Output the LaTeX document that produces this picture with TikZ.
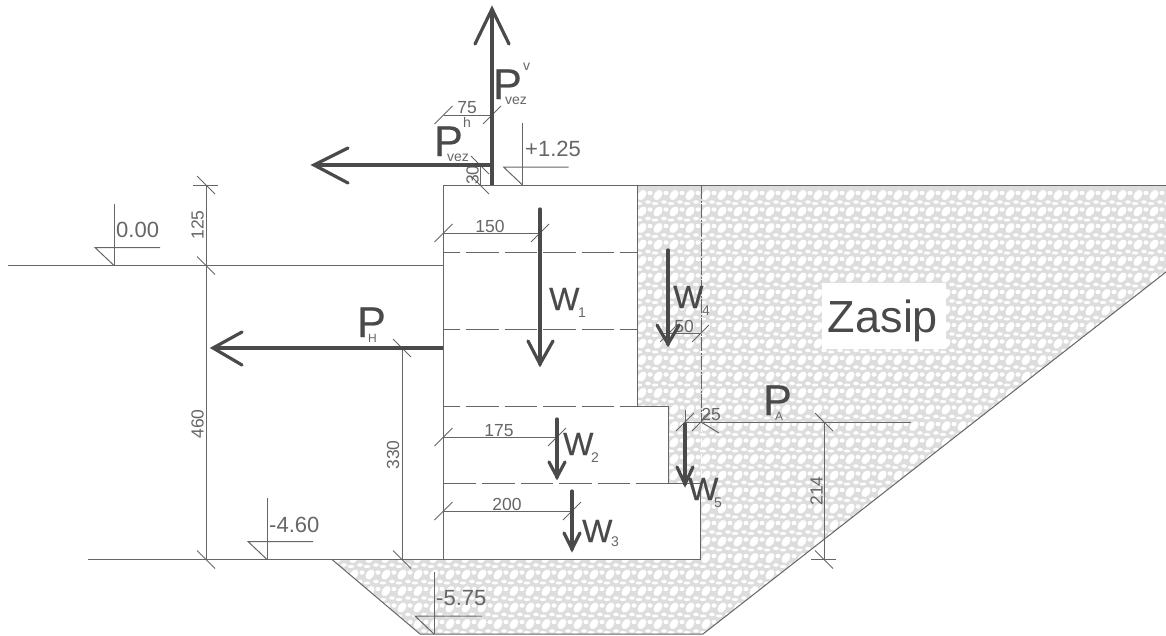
\documentclass[tikz,border=0pt]{standalone}
\usepackage{fontspec}
\setmainfont{Liberation Sans}
\newfontfamily\fbold[FakeBold=0.35]{Liberation Sans}
\usetikzlibrary{calc}
\definecolor{ink}{HTML}{666666}
\definecolor{force}{HTML}{4A4A4A}
\definecolor{peb}{HTML}{DDDDDD}
\tikzset{
 thinline/.style={draw=ink,line width=1pt},
 dashline/.style={draw=ink,line width=1pt,dash pattern=on 32.5pt off 6pt},
 forceline/.style={draw=force,line width=3.5pt},
 forcethin/.style={draw=force,line width=3.2pt,line cap=round,line join=miter},
 lvltext/.style={text=ink,inner sep=0pt,anchor=base west,font=\fontsize{22}{22}\selectfont},
 dimt/.style={text=ink,inner sep=0pt,font=\fontsize{17.5}{17.5}\selectfont},
 bigP/.style={text=force,inner sep=0pt,anchor=base west,font=\fbold\fontsize{43}{43}\selectfont},
 bigW/.style={text=force,inner sep=0pt,anchor=base west,font=\fbold\fontsize{32}{32}\selectfont},
 subt/.style={text=ink,inner sep=0pt,anchor=base west,font=\fontsize{14}{14}\selectfont},
 subs/.style={text=ink,inner sep=0pt,anchor=base west,font=\fontsize{12}{12}\selectfont},
}
\begin{document}
\begin{tikzpicture}[x=1pt,y=-1pt]
\useasboundingbox (0,0) rectangle (1166,635);
% fill with pebbles
\begin{scope}
\clip (637,185) -- (1166,185) -- (1166,272) -- (703,634) -- (420,634) -- (332,559.5) -- (700.5,559.5) -- (700.5,483) -- (668,483) -- (668,406) -- (637,406) -- cycle;
\fill[peb] (320,180) rectangle (1166,635);
\foreach \r in {0,...,27}{
 \foreach \c in {0,...,53}{
  \pgfmathsetmacro{\px}{322+\c*16}
  \pgfmathsetmacro{\py}{195+\r*16.5}
  \fill[white] (\px,\py) ellipse[x radius=5.6,y radius=3.8,rotate=55];
  \fill[white] (\px+8,\py-2) ellipse[x radius=2.6,y radius=2.2];
  \fill[white] (\px-3,\py+8.5) ellipse[x radius=3.4,y radius=1.5];
  \fill[white] (\px+6,\py+7) ellipse[x radius=2.8,y radius=1.8];
 }
}
\end{scope}
\fill[white] (822,283) rectangle (946,349);
% structure
\draw[thinline] (443.5,185) -- (1166,185);
\draw[thinline] (443.5,185) -- (443.5,559.5);
\draw[thinline] (637,185) -- (637,406) -- (668,406) -- (668,483) -- (700.5,483) -- (700.5,559.5);
\draw[thinline] (88,559.5) -- (700.5,559.5);
\draw[thinline] (8,265.5) -- (443.5,265.5);
\draw[thinline] (332,559.5) -- (420,634) -- (703,634) -- (1166,272);
% dashed
\draw[dashline,dash phase=16pt] (443.5,252) -- (637,252);
\draw[dashline,dash phase=16pt] (443.5,329) -- (637,329);
\draw[dashline,dash phase=16pt] (443.5,406) -- (637,406);
\draw[dashline] (443.5,483) -- (668,483);
\draw[draw=ink,line width=1pt,dash pattern=on 14pt off 1.5pt on 2pt off 1.5pt] (701,185) -- (701,422);
\draw[draw=white,line width=1pt,dash pattern=on 10pt off 6pt] (701,422) -- (701,483);
% level marks
\foreach \x/\y/\w in {114/265.5/46, 267/559.5/46, 522.5/185/46, 434/634/48}{
 \draw[thinline] (\x,\y) -- (\x,\y-62);
 \draw[thinline] (\x,\y) -- (\x-19,\y-18) -- (\x+\w,\y-18);
}
\node[lvltext] (l0) at (116,237) {0.00};
\node[lvltext] (l1) at (269,532) {-4.60};
\node[lvltext] (l2) at (525,156) {+1.25};
\node[lvltext] (l3) at (436,605) {-5.75};
% vertical dims
\draw[thinline] (206,185) -- (206,559.5);
\foreach \x/\y in {206/185,206/265.5,206/559.5,402/348,402/559.5,824/422,824/559.5,480/165,480/185}{
 \draw[thinline] (\x-9,\y-9) -- (\x+9,\y+9);
}
\draw[thinline] (701,422) -- (719,433);
\draw[thinline] (193,185) -- (218,185);
\draw[thinline] (193,265.5) -- (218,265.5);
\node[dimt,rotate=90] (d125) at (197.5,225) {125};
\node[dimt,rotate=90] (d460) at (197.5,424) {460};
\draw[thinline] (402,348) -- (402,559.5);
\node[dimt,rotate=90] (d330) at (393,455) {330};
\draw[thinline] (480,165) -- (480,185);
\node[dimt,rotate=90] (d30) at (472.5,175) {30};
\draw[thinline] (824,422) -- (824,559.5);
\draw[thinline] (811,559.5) -- (836,559.5);
\draw[thinline] (811,422) -- (836,422);
\node[dimt,rotate=90] (d214) at (816.5,491) {214};
% horizontal dims
\foreach \a/\b/\y/\t/\tx in {443.5/540/233/150/490, 443.5/557/437/175/499, 443.5/572/511/200/507}{
 \draw[thinline] (\a,\y) -- (\b,\y);
 \draw[thinline] (\a-9,\y+9) -- (\a+9,\y-9);
 \draw[thinline] (\b-9,\y+9) -- (\b+9,\y-9);
 \node[dimt,anchor=base] at (\tx,\y-0.5) {\t};
}
\draw[thinline] (443.5,115) -- (492,115);
\draw[thinline] (434.5,124) -- (452.5,106);
\draw[thinline] (483,124) -- (501,106);
\node[dimt,anchor=base] (d75) at (467,113) {75};
\draw[thinline] (660,333) -- (701,333);
\draw[thinline] (660,342) -- (677,325);
\draw[thinline] (692,342) -- (709,325);
\node[dimt,anchor=base] (d50) at (684,332) {50};
\draw[thinline] (685,422) -- (911,422);
\draw[thinline] (685,410) -- (685,423);
\draw[thinline] (676,431) -- (694,413);
\draw[thinline] (692,431) -- (710,413);
\node[dimt,anchor=base] (d25) at (711,420.5) {25};
% forces
\draw[forceline] (492,185) -- (492,9);
\draw[forcethin] (475,44) -- (492,9) -- (509,44);
\draw[forceline] (492,165) -- (314,165);
\draw[forcethin] (348,148) -- (314,165) -- (348,183);
\draw[forceline] (443,348) -- (213,348);
\draw[forcethin] (242,332) -- (213,348) -- (242,365);
\draw[forcethin] (540,209) -- (540,364);
\draw[forcethin] (528,341) -- (540,364) -- (553,341);
\draw[forcethin] (668,250) -- (668,344);
\draw[forcethin] (657,325) -- (668,344) -- (679,325);
\draw[forcethin] (557,419) -- (557,477);
\draw[forcethin] (549,462) -- (557,477) -- (565,462);
\draw[forcethin] (685,424) -- (685,484);
\draw[forcethin] (677,467) -- (685,484) -- (693,467);
\draw[forcethin] (572,491) -- (572,549);
\draw[forcethin] (564,533) -- (572,549) -- (580,533);
% force labels
\node[bigP] (Pv) at (493,99) {P};
\node[subt] (Pvs) at (505,104) {vez};
\node[subt] (Pvt) at (523,70) {v};
\node[bigP] (Ph) at (434,156) {P};
\node[subt] (Phs) at (447,161) {vez};
\node[subt] (Pht) at (463,127) {h};
\node[bigP] (PH) at (357,337) {P};
\node[subs] (PHs) at (368,342) {H};
\node[bigP] (PA) at (763,415) {P};
\node[subs] (PAs) at (775,420) {A};
\node[bigW] (W1) at (549,310) {W};
\node[subt] (W1s) at (578,317) {1};
\node[bigW] (W4) at (673,308) {W};
\node[subt] (W4s) at (702,315) {4};
\node[bigW] (W2) at (563,455) {W};
\node[subt] (W2s) at (591,462) {2};
\node[bigW] (W5) at (688,500) {W};
\node[subt] (W5s) at (714,507) {5};
\node[bigW] (W3) at (582,542) {W};
\node[subt] (W3s) at (611,546) {3};
\node[text=force,inner sep=0pt,anchor=base,font=\fontsize{45}{45}\selectfont] (Z) at (883,332) {Zasip};
\end{tikzpicture}
\end{document}
